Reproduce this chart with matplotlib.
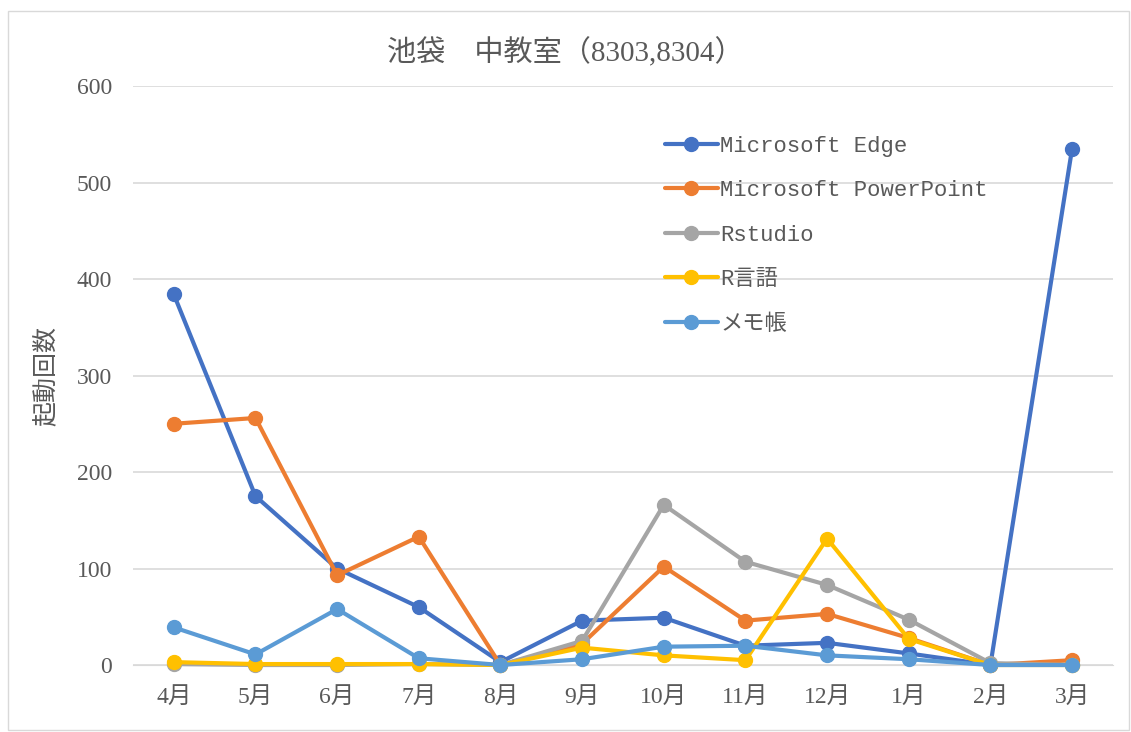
import matplotlib
matplotlib.use("Agg")
import matplotlib.pyplot as plt
from matplotlib.patches import Rectangle

plt.rcParams['font.family'] = ['Liberation Serif', 'Noto Sans CJK JP']

months = ['4月', '5月', '6月', '7月', '8月', '9月', '10月', '11月', '12月', '1月', '2月', '3月']
edge = [384, 175, 100, 60, 3, 46, 49, 20, 23, 12, 0, 535]
powerpoint = [250, 256, 93, 133, 0, 22, 102, 46, 53, 28, 0, 5]
rstudio = [1, 0, 0, 1, 0, 25, 166, 107, 83, 47, 2, 0]
r_lang = [3, 1, 1, 1, 0, 18, 10, 5, 131, 27, 0, 0]
memo = [39, 11, 58, 7, 0, 6, 19, 20, 10, 6, 0, 0]

series = [
    ('Microsoft Edge', edge, '#4472C4'),
    ('Microsoft PowerPoint', powerpoint, '#ED7D31'),
    ('Rstudio', rstudio, '#A5A5A5'),
    ('R言語', r_lang, '#FFC000'),
    ('メモ帳', memo, '#5B9BD5'),
]

txt = '#595959'
fig = plt.figure(figsize=(11.31, 7.32), dpi=100)
fig.patches.append(Rectangle((0.007, 0.003), 0.991, 0.982, transform=fig.transFigure,
                             fill=False, edgecolor='#D9D9D9', linewidth=1))
ax = fig.add_axes([0.1176, 0.0915, 0.8664, 0.791])

x = list(range(len(months)))
for name, vals, col in series:
    ax.plot(x, vals, color=col, linewidth=3, marker='o', markersize=10,
            label=name, solid_capstyle='round', clip_on=False, zorder=3)

ax.set_xlim(-0.5, len(months) - 0.5)
ax.set_ylim(0, 600)
ax.set_yticks(range(0, 601, 100))
ax.set_xticks(x)
ax.set_xticklabels(months)
ax.grid(axis='y', color='#D9D9D9', linewidth=1.2, zorder=0)
ax.set_axisbelow(True)
for s in ['top', 'right', 'left']:
    ax.spines[s].set_visible(False)
ax.spines['bottom'].set_color('#D9D9D9')
ax.tick_params(axis='both', length=0, labelsize=17, colors=txt)
ax.tick_params(axis='y', pad=15)
ax.tick_params(axis='x', pad=16)
ax.set_ylabel('起動回数', fontsize=18, color=txt, labelpad=14)

fig.text(0.5, 0.928, '池袋\u3000中教室（8303,8304）', ha='center', va='center',
         fontsize=21, color=txt)

leg = ax.legend(loc='upper left', bbox_to_anchor=(0.578, 0.83), bbox_transform=fig.transFigure,
                frameon=False, handlelength=2.4, handletextpad=0.1,
                labelspacing=1.06, borderpad=0,
                prop={'family': ['Liberation Mono', 'Noto Sans CJK JP'], 'size': 16})
for t in leg.get_texts():
    t.set_color(txt)

fig.savefig('out.png', dpi=100)
